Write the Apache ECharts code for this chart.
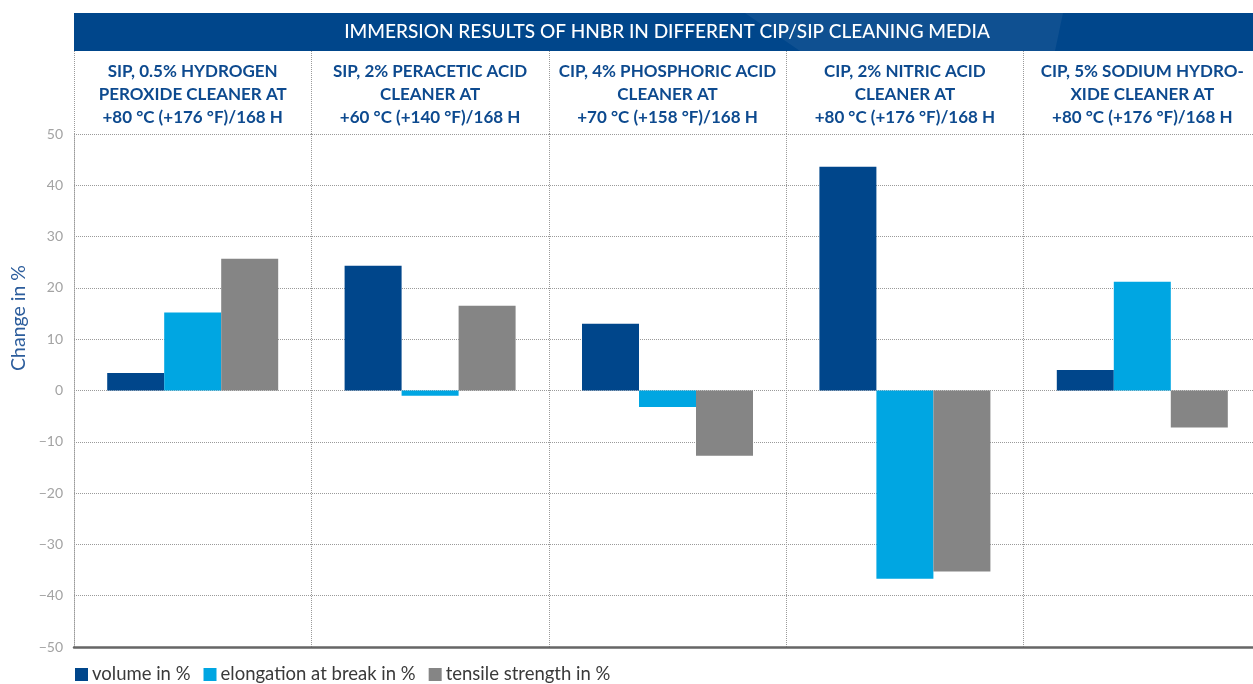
<!DOCTYPE html>
<html>
<head>
<meta charset="utf-8">
<script src="https://cdn.jsdelivr.net/npm/echarts@6/dist/echarts.min.js"></script>
<style>
  html, body { margin: 0; padding: 0; background: #fff; }
  #chart { width: 1253px; height: 684px; }
</style>
</head>
<body>
<div id="chart"></div>
<script>
// 数据
const categories = [
    'SIP, 0.5% HYDROGEN\nPEROXIDE CLEANER AT\n+80 °C (+176 °F)/168 H',
    'SIP, 2% PERACETIC ACID\nCLEANER AT\n+60 °C (+140 °F)/168 H',
    'CIP, 4% PHOSPHORIC ACID\nCLEANER AT\n+70 °C (+158 °F)/168 H',
    'CIP, 2% NITRIC ACID\nCLEANER AT\n+80 °C (+176 °F)/168 H',
    'CIP, 5% SODIUM HYDRO-\nXIDE CLEANER AT\n+80 °C (+176 °F)/168 H'
];
const volume = [3.4, 24.3, 13.0, 43.6, 4.0];
const elongation = [15.2, -1.0, -3.2, -36.7, 21.2];
const tensile = [25.7, 16.5, -12.7, -35.3, -7.2];
const seriesNames = ['volume in %', 'elongation at break in %', 'tensile strength in %'];
const chartTitle = 'IMMERSION RESULTS OF HNBR IN DIFFERENT CIP/SIP CLEANING MEDIA';
const yName = 'Change in %';

const FONT = 'Lato';
const dotted = { color: '#9a9a9a', type: 'dotted', width: 1 };

const chart = echarts.init(document.getElementById('chart'));

const option = {
    animation: false,
    textStyle: { fontFamily: FONT },
    color: ['#00468b', '#00a6e2', '#858585'],
    // 绘图区右侧超出画布
    grid: { left: 74, top: 134, width: 1187, height: 513, outerBoundsMode: 'none' },
    graphic: [
        {
            type: 'rect', left: 74, top: 13, z: 0,
            shape: { width: 1179, height: 38 },
            style: { fill: '#00468b' }
        },
        {
            type: 'polygon', z: 1,
            shape: { points: [[745, 13], [1063, 13], [1055, 51], [800, 51]] },
            style: { fill: 'rgba(255,255,255,0.06)' }
        },
        {
            type: 'text', x: 667, y: 32, z: 2,
            style: {
                text: chartTitle, fill: '#fff', fontFamily: FONT,
                fontSize: 19, fontWeight: 500, align: 'center', verticalAlign: 'middle'
            }
        },
        {
            type: 'text', x: 19, y: 318, rotation: Math.PI / 2,
            style: {
                text: yName, fill: '#2c5d9c', fontFamily: FONT,
                fontSize: 19.5, align: 'center', verticalAlign: 'middle'
            }
        }
    ],
    legend: {
        left: 70, top: 660,
        icon: 'rect', itemWidth: 13, itemHeight: 13, itemGap: 13,
        textStyle: { fontSize: 18.5, color: '#3a3a3a', fontFamily: FONT, padding: [0, 0, 0, -1] },
        data: seriesNames
    },
    xAxis: [
        {
            type: 'category', data: categories, position: 'bottom',
            axisLine: { onZero: false, lineStyle: { color: '#666', width: 2.5 } },
            axisTick: { show: false },
            axisLabel: { show: false },
            splitLine: { show: true, interval: 0, lineStyle: dotted }
        },
        {
            type: 'category', data: categories, position: 'top',
            axisLine: { show: false, onZero: false },
            axisTick: { show: true, interval: 0, length: 83, lineStyle: dotted },
            axisLabel: {
                interval: 0, margin: 5, color: '#0d4a8f', fontSize: 17,
                fontWeight: 'bold', lineHeight: 23, align: 'center'
            },
            splitLine: { show: false }
        }
    ],
    yAxis: {
        type: 'value', min: -50, max: 50, interval: 10,
        axisLine: { show: true, lineStyle: dotted },
        axisTick: { show: false },
        axisLabel: {
            color: '#a3a3a3', fontSize: 14, margin: 11,
            formatter: v => String(v).replace('-', '\u2212')
        },
        splitLine: { show: true, lineStyle: dotted }
    },
    series: [
        { name: seriesNames[0], type: 'bar', data: volume, barWidth: 57, barGap: '0%' },
        { name: seriesNames[1], type: 'bar', data: elongation, barWidth: 57, barGap: '0%' },
        { name: seriesNames[2], type: 'bar', data: tensile, barWidth: 57, barGap: '0%' }
    ]
};

chart.setOption(option);
</script>
</body>
</html>
